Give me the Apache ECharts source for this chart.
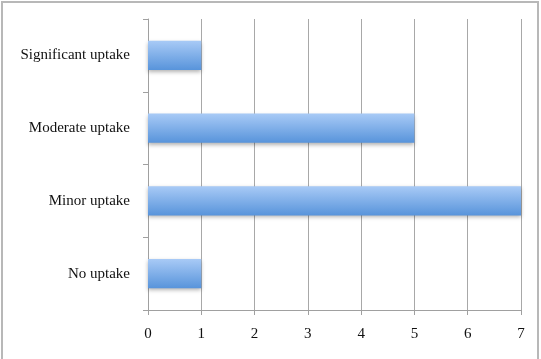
<!DOCTYPE html>
<html>
<head>
<meta charset="utf-8">
<script src="https://cdn.jsdelivr.net/npm/echarts@6/dist/echarts.min.js"></script>
<style>
  html, body { margin: 0; padding: 0; background: #fff; }
  #main { width: 541px; height: 359px; }
</style>
</head>
<body>
<div id="main"></div>
<script>
// data (bottom to top)
var categories = ['No uptake', 'Minor uptake', 'Moderate uptake', 'Significant uptake'];
var counts = [1, 7, 5, 1];
var tickMax = 7;

var chart = echarts.init(document.getElementById('main'));

var option = {
    animation: false,
    textStyle: { fontFamily: 'Liberation Serif, DejaVu Serif, serif' },
    graphic: [{
        type: 'rect',
        shape: { x: 2, y: 2, width: 536, height: 370 },
        style: { fill: 'none', stroke: '#b8b8b8', lineWidth: 2 },
        silent: true
    }],
    grid: { left: 148, right: 20, top: 19, bottom: 49 },
    xAxis: {
        type: 'value',
        min: 0,
        max: tickMax,
        interval: 1,
        axisLine: { show: true, lineStyle: { color: '#a0a0a0', width: 1 } },
        axisTick: { show: true, length: 5, lineStyle: { color: '#a0a0a0' } },
        axisLabel: { color: '#111', fontSize: 15, margin: 17, fontFamily: 'Liberation Serif, DejaVu Serif, serif' },
        splitLine: { show: true, lineStyle: { color: '#a8a8a8', width: 1 } }
    },
    yAxis: {
        type: 'category',
        data: categories,
        axisLine: { show: true, lineStyle: { color: '#a0a0a0', width: 1 } },
        axisTick: { show: true, length: 5, lineStyle: { color: '#a0a0a0' } },
        axisLabel: { color: '#111', fontSize: 15, margin: 18, fontFamily: 'Liberation Serif, DejaVu Serif, serif' }
    },
    series: [{
        type: 'bar',
        data: counts,
        barWidth: '40%',
        itemStyle: {
            color: new echarts.graphic.LinearGradient(0, 0, 0, 1, [
                { offset: 0, color: '#a8caf6' },
                { offset: 1, color: '#5894db' }
            ]),
            shadowColor: 'rgba(0,0,0,0.3)',
            shadowBlur: 4,
            shadowOffsetY: 2
        }
    }]
};

chart.setOption(option);
</script>
</body>
</html>
